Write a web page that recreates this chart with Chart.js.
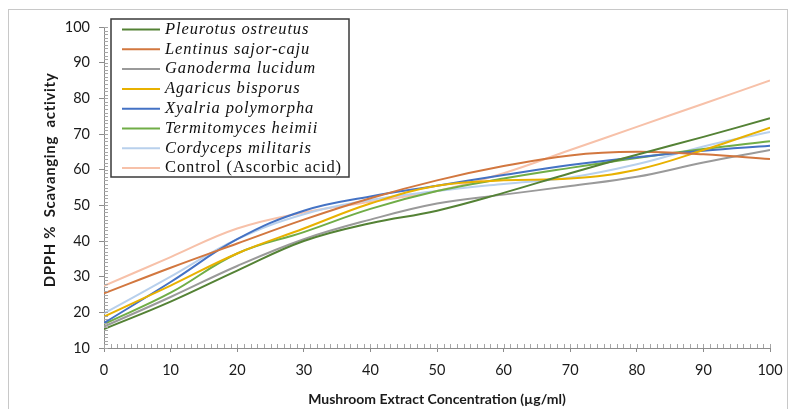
<!DOCTYPE html>
<html>
<head>
<meta charset="utf-8">
<script src="https://cdn.jsdelivr.net/npm/chart.js@4/dist/chart.umd.min.js"></script>
<style>
  html, body { margin: 0; padding: 0; background: #ffffff; }
  #wrap { position: relative; width: 794px; height: 409px; }
</style>
</head>
<body>
<div id="wrap"><canvas id="c" width="794" height="409"></canvas></div>
<script>
const concentrations = [0, 10, 20, 30, 40, 50, 60, 70, 80, 90, 100];
const pleurotus    = [15.3, 23.0, 31.7, 40.0, 45.0, 48.5, 53.5, 59.0, 64.2, 69.2, 74.4];
const lentinus     = [25.3, 32.5, 39.3, 46.0, 52.0, 57.0, 61.0, 64.0, 65.0, 64.3, 63.0];
const ganoderma    = [16.0, 24.3, 33.0, 40.5, 46.0, 50.5, 53.0, 55.4, 58.0, 62.0, 65.5];
const agaricus     = [18.8, 27.5, 36.5, 43.5, 50.5, 55.5, 57.0, 57.5, 60.0, 65.5, 71.8];
const xylaria      = [17.0, 28.5, 40.5, 48.5, 52.5, 55.5, 58.5, 61.3, 63.5, 65.3, 66.7];
const termitomyces = [16.7, 25.5, 36.5, 42.5, 49.0, 54.0, 57.5, 60.5, 63.3, 65.8, 68.0];
const cordyceps    = [19.7, 30.0, 40.5, 47.5, 51.5, 54.0, 56.0, 57.8, 61.5, 66.5, 70.6];
const control      = [27.4, 35.5, 43.5, 48.0, 51.0, 54.0, 59.0, 65.5, 72.0, 78.5, 85.0];

const seriesNames = ['Pleurotus ostreutus', 'Lentinus sajor-caju', 'Ganoderma lucidum', 'Agaricus bisporus',
                     'Xyalria polymorpha', 'Termitomyces heimii', 'Cordyceps militaris', 'Control (Ascorbic acid)'];
const seriesItalic = [true, true, true, true, true, true, true, false];
const seriesColors = ['#548235', '#d2773f', '#9a9a9a', '#e8b100', '#4472c4', '#70ad47', '#b8d0ec', '#f7c1a9'];
const seriesValues = [pleurotus, lentinus, ganoderma, agaricus, xylaria, termitomyces, cordyceps, control];

const yTitle = 'DPPH %  Scavanging  activity';
const xTitle = 'Mushroom Extract Concentration (\u00b5g/ml)';

const datasets = seriesValues.map((vals, i) => ({
  label: seriesNames[i],
  data: vals.map((v, j) => ({ x: concentrations[j], y: v })),
  borderColor: seriesColors[i],
  backgroundColor: seriesColors[i],
  borderWidth: 2,
  pointRadius: 0,
  tension: 0.4,
  fill: false
}));

const framePlugin = {
  id: 'frame',
  beforeDraw(chart) {
    const ctx = chart.ctx;
    ctx.save();
    ctx.fillStyle = '#ffffff';
    ctx.fillRect(0, 0, chart.width, chart.height);
    ctx.strokeStyle = '#c8c8c8';
    ctx.lineWidth = 1;
    ctx.strokeRect(8.5, 9.5, 779, 420);
    ctx.restore();
  }
};

const minorTicksPlugin = {
  id: 'minorTicks',
  afterDraw(chart) {
    const ctx = chart.ctx;
    const xs = chart.scales.x, ys = chart.scales.y;
    const a = chart.chartArea;
    ctx.save();
    ctx.strokeStyle = '#a6a6a6';
    ctx.lineWidth = 1;
    ctx.beginPath();
    for (let v = 0; v <= 100; v += 1) {
      const px = Math.round(xs.getPixelForValue(v)) + 0.5;
      ctx.moveTo(px, a.bottom);
      ctx.lineTo(px, a.bottom - 4);
    }
    for (let v = 10; v <= 100; v += 1) {
      const py = Math.round(ys.getPixelForValue(v)) + 0.5;
      ctx.moveTo(a.left, py);
      ctx.lineTo(a.left + 4, py);
    }
    ctx.stroke();
    ctx.restore();
  }
};

const yTitlePlugin = {
  id: 'yTitle',
  afterDraw(chart) {
    const ctx = chart.ctx;
    ctx.save();
    ctx.font = 'bold 15px Lato, "Open Sans", sans-serif';
    const w = ctx.measureText(yTitle).width;
    const target = 214;
    if (w < target) ctx.letterSpacing = ((target - w) / (yTitle.length - 1)).toFixed(2) + 'px';
    ctx.translate(50, 180);
    ctx.rotate(-Math.PI / 2);
    ctx.fillStyle = '#1a1a1a';
    ctx.textAlign = 'center';
    ctx.textBaseline = 'middle';
    ctx.fillText(yTitle, 0, 0);
    ctx.restore();
  }
};

const legendPlugin = {
  id: 'boxLegend',
  afterDraw(chart) {
    const ctx = chart.ctx;
    const bx = 111, by = 19, bw = 238, bh = 158;
    ctx.save();
    ctx.fillStyle = '#ffffff';
    ctx.fillRect(bx, by, bw, bh);
    ctx.strokeStyle = '#3a3a3a';
    ctx.lineWidth = 1.5;
    ctx.strokeRect(bx, by, bw, bh);
    ctx.textBaseline = 'middle';
    ctx.textAlign = 'left';
    const baseFont = '16.5px "Liberation Serif", "DejaVu Serif", serif';
    ctx.font = baseFont;
    const ctrlW = ctx.measureText(seriesNames[7]).width;
    const spacing = Math.max(0, (176 - ctrlW) / (seriesNames[7].length - 1));
    ctx.letterSpacing = spacing.toFixed(2) + 'px';
    chart.data.datasets.forEach((ds, i) => {
      const y = 29.5 + i * 19.8;
      ctx.strokeStyle = ds.borderColor;
      ctx.lineWidth = 2;
      ctx.beginPath();
      ctx.moveTo(122, y);
      ctx.lineTo(160, y);
      ctx.stroke();
      ctx.fillStyle = '#111111';
      ctx.font = (seriesItalic[i] ? 'italic ' : '') + baseFont;
      ctx.fillText(ds.label, 165, y);
    });
    ctx.restore();
  }
};

new Chart(document.getElementById('c'), {
  type: 'line',
  data: { datasets },
  plugins: [framePlugin, minorTicksPlugin, yTitlePlugin, legendPlugin],
  options: {
    responsive: false,
    animation: false,
    devicePixelRatio: 1,
    layout: { padding: { left: 0, right: 24, top: 27, bottom: 0 } },
    plugins: { legend: { display: false }, tooltip: { enabled: false } },
    scales: {
      x: {
        type: 'linear',
        min: 0, max: 100,
        ticks: { stepSize: 10, color: '#1a1a1a', padding: 10, maxRotation: 0,
                 font: { family: 'Lato, "Open Sans", sans-serif', size: 14.5 } },
        grid: { drawOnChartArea: false, drawTicks: true, tickLength: 4, color: '#8c8c8c' },
        border: { display: true, color: '#8c8c8c', width: 1 },
        title: { display: true, text: xTitle, color: '#1a1a1a', padding: { top: 0, bottom: 1 },
                 font: { family: 'Lato, "Open Sans", sans-serif', size: 14, weight: 'bold' } },
        afterFit(scale) { scale.height = 61; }
      },
      y: {
        type: 'linear',
        min: 10, max: 100,
        ticks: { stepSize: 10, color: '#1a1a1a', padding: 9,
                 font: { family: 'Lato, "Open Sans", sans-serif', size: 14.5 } },
        grid: { drawOnChartArea: false, drawTicks: true, tickLength: 5, color: '#8c8c8c' },
        border: { display: true, color: '#8c8c8c', width: 1 },
        title: { display: false },
        afterFit(scale) { scale.width = 104; }
      }
    }
  }
});
</script>
</body>
</html>
